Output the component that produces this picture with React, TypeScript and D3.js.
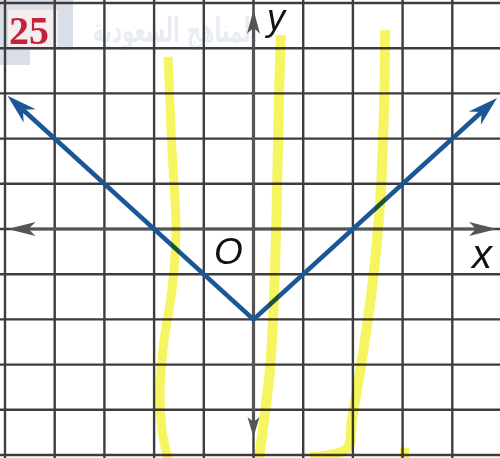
import React from 'react';
import * as d3 from 'd3';

// grid runs from -5 to 5 on both axes
const gridX = [-5, -4, -3, -2, -1, 0, 1, 2, 3, 4, 5];
const gridY = [-5, -4, -3, -2, -1, 0, 1, 2, 3, 4, 5];

// y = |x| - 2, drawn as two rays from the vertex
const graphPoints: [number, number][] = [[-4.95, 2.95], [0, -2], [4.9, 2.9]];

// axis arrow ends (in grid units)
const xAxisEnds = [-4.95, 4.9];
const yAxisEnds = [4.85, -4.6];

// yellow highlighter marks, in grid units
const markLeft: [number, number][] = [
  [-1.72, 3.81], [-1.64, 1.75], [-1.56, -0.02], [-1.64, -1.35],
  [-1.8, -2.46], [-1.88, -3.56], [-1.84, -4.45], [-1.72, -5.1],
];
const markMiddle: [number, number][] = [
  [0.55, 4.29], [0.51, 2.85], [0.47, 0.64], [0.41, -1.57],
  [0.33, -3.12], [0.21, -4.23], [0.11, -5.1],
];
const markRight: [number, number][] = [
  [2.65, 4.4], [2.63, 2.85], [2.55, 0.64], [2.38, -1.35],
  [2.18, -2.9], [1.98, -4.23], [1.88, -4.86], [1.14, -5.05],
];
const markDot: [number, number] = [3.03, -4.95];

const problemNumber = '25';
const watermark = 'المناهج السعودية';

const W = 500;
const H = 458;

function arrowHead(tip: [number, number], from: [number, number], len: number, half: number, notch: number) {
  const a = Math.atan2(tip[1] - from[1], tip[0] - from[0]);
  const c = Math.cos(a), s = Math.sin(a);
  const bx = tip[0] - c * len, by = tip[1] - s * len;
  const nx = tip[0] - c * (len - notch), ny = tip[1] - s * (len - notch);
  return `M${tip[0]},${tip[1]} L${bx - s * half},${by + c * half} L${nx},${ny} L${bx + s * half},${by - c * half} Z`;
}

export default function App() {
  const x = d3.scaleLinear().domain([-5, 5]).range([5, 502]);
  const y = d3.scaleLinear().domain([-5, 5]).range([455, 3]);

  const line = d3.line<[number, number]>().x(d => x(d[0])).y(d => y(d[1]));
  const smooth = d3.line<[number, number]>().x(d => x(d[0])).y(d => y(d[1])).curve(d3.curveCatmullRom);

  const blue = '#1b5796';
  const axisGray = '#555';
  const gridGray = '#3d3d3d';
  const yellow = '#f7f462';

  const p0: [number, number] = [x(graphPoints[0][0]), y(graphPoints[0][1])];
  const p1: [number, number] = [x(graphPoints[1][0]), y(graphPoints[1][1])];
  const p2: [number, number] = [x(graphPoints[2][0]), y(graphPoints[2][1])];

  const x0 = x(0), y0 = y(0);

  return (
    <svg width={W} height={H} style={{ position: 'absolute', left: 0, top: 0, background: '#fff' }}>
      {/* faint watermark */}
      <text x={175} y={42} textAnchor="middle" fontFamily="DejaVu Sans" fontSize={34} fontWeight="bold"
        textLength={165} lengthAdjust="spacingAndGlyphs" fill="#cdd6ea" opacity={0.45}>{watermark}</text>

      {/* number badge */}
      <rect x={0} y={0} width={73} height={50} fill="#d9dee9" />
      <rect x={0} y={50} width={30} height={15} fill="#d9dee9" />
      <rect x={8} y={10} width={50} height={38} fill="#f4eef0" />

      {/* grid */}
      {gridX.map(v => (
        <line key={'gx' + v} x1={x(v)} x2={x(v)} y1={0} y2={H} stroke={gridGray} strokeWidth={2.4} />
      ))}
      {gridY.map(v => (
        <line key={'gy' + v} x1={0} x2={W} y1={y(v)} y2={y(v)} stroke={gridGray} strokeWidth={2.4} />
      ))}

      <text x={9} y={44} fontFamily="Liberation Serif" fontWeight="bold" fontSize={40} fill="#c4213a">{problemNumber}</text>

      {/* axes */}
      <line x1={x(xAxisEnds[0]) + 10} x2={x(xAxisEnds[1]) - 10} y1={y0} y2={y0} stroke={axisGray} strokeWidth={3.2} />
      <line x1={x0} x2={x0} y1={y(yAxisEnds[0]) + 10} y2={y(yAxisEnds[1]) - 10} stroke={axisGray} strokeWidth={3.2} />
      <path d={arrowHead([x(xAxisEnds[0]), y0], [x0, y0], 28, 7, 7)} fill={axisGray} />
      <path d={arrowHead([x(xAxisEnds[1]), y0], [x0, y0], 28, 7, 7)} fill={axisGray} />
      <path d={arrowHead([x0, y(yAxisEnds[0])], [x0, y0], 24, 6.5, 6)} fill={axisGray} />
      <path d={arrowHead([x0, y(yAxisEnds[1])], [x0, y0], 20, 6, 5)} fill={axisGray} />

      {/* graph */}
      <path d={line([[graphPoints[0][0] + 0.3, graphPoints[0][1] - 0.3], graphPoints[1], [graphPoints[2][0] - 0.3, graphPoints[2][1] - 0.3]]) || ''}
        fill="none" stroke={blue} strokeWidth={4.5} strokeLinejoin="miter" />
      <path d={arrowHead(p0, p1, 30, 9, 9)} fill={blue} />
      <path d={arrowHead(p2, p1, 30, 9, 9)} fill={blue} />

      {/* labels */}
      <text x={x0 - 25} y={y0 + 35} textAnchor="middle" fontFamily="Liberation Sans" fontStyle="italic" fontSize={37} fill="#111">O</text>
      <text x={482} y={y0 + 39} textAnchor="middle" fontFamily="Liberation Sans" fontStyle="italic" fontSize={40} fill="#111">x</text>
      <text x={276} y={30} textAnchor="middle" fontFamily="Liberation Sans" fontStyle="italic" fontSize={36} fill="#111">y</text>

      {/* highlighter */}
      <g style={{ mixBlendMode: 'multiply' }}>
        <path d={smooth(markLeft) || ''} fill="none" stroke={yellow} strokeWidth={9} strokeLinejoin="round" />
        <path d={smooth(markMiddle) || ''} fill="none" stroke={yellow} strokeWidth={10} strokeLinejoin="round" />
        <path d={smooth(markRight) || ''} fill="none" stroke={yellow} strokeWidth={10} strokeLinejoin="round" />
        <rect x={x(markDot[0]) - 4} y={y(markDot[1]) - 5} width={9} height={12} fill={yellow} />
      </g>
    </svg>
  );
}
